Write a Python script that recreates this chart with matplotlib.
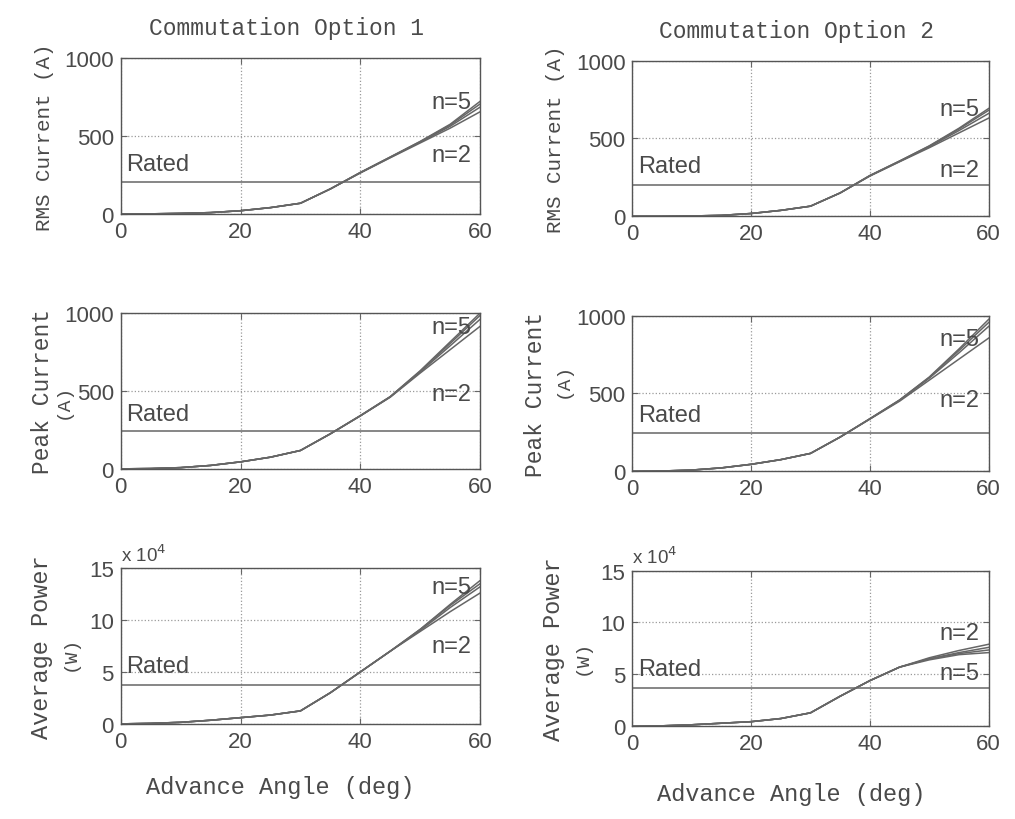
import matplotlib
matplotlib.use("Agg")
import matplotlib.pyplot as plt

# advance angle (deg)
angle = [0, 5, 10, 15, 20, 25, 30, 35, 40, 45, 50, 55, 60]
n_values = [2, 3, 4, 5]

# commutation option 1
rms1 = {
    2: [0, 0, 3, 8, 20, 40, 68, 160, 262, 360, 455, 550, 655],
    3: [0, 0, 3, 8, 20, 40, 68, 160, 264, 362, 460, 562, 685],
    4: [0, 0, 3, 8, 20, 40, 68, 160, 265, 364, 463, 570, 705],
    5: [0, 0, 3, 8, 20, 40, 68, 160, 266, 365, 465, 575, 722],
}
peak1 = {
    2: [0, 2, 8, 22, 45, 75, 118, 225, 340, 460, 615, 765, 915],
    3: [0, 2, 8, 22, 45, 75, 118, 225, 340, 462, 622, 790, 960],
    4: [0, 2, 8, 22, 45, 75, 118, 225, 341, 463, 626, 805, 985],
    5: [0, 2, 8, 22, 45, 75, 118, 225, 342, 464, 630, 815, 1000],
}
power1 = {
    2: [0, 0.05, 0.15, 0.35, 0.6, 0.85, 1.25, 3.0, 5.0, 7.0, 8.9, 10.8, 12.6],
    3: [0, 0.05, 0.15, 0.35, 0.6, 0.85, 1.25, 3.0, 5.0, 7.0, 9.0, 11.2, 13.2],
    4: [0, 0.05, 0.15, 0.35, 0.6, 0.85, 1.25, 3.0, 5.0, 7.0, 9.1, 11.4, 13.5],
    5: [0, 0.05, 0.15, 0.35, 0.6, 0.85, 1.25, 3.0, 5.0, 7.0, 9.1, 11.5, 13.8],
}

# commutation option 2
rms2 = {
    2: [0, 0, 2, 6, 18, 38, 65, 150, 258, 350, 440, 535, 630],
    3: [0, 0, 2, 6, 18, 38, 65, 150, 260, 352, 446, 550, 660],
    4: [0, 0, 2, 6, 18, 38, 65, 150, 261, 354, 450, 560, 680],
    5: [0, 0, 2, 6, 18, 38, 65, 150, 262, 355, 452, 565, 692],
}
peak2 = {
    2: [0, 2, 8, 22, 45, 75, 115, 220, 335, 450, 585, 720, 855],
    3: [0, 2, 8, 22, 45, 75, 115, 220, 336, 455, 598, 760, 930],
    4: [0, 2, 8, 22, 45, 75, 115, 220, 337, 457, 602, 775, 955],
    5: [0, 2, 8, 22, 45, 75, 115, 220, 338, 458, 605, 785, 975],
}
power2 = {
    2: [0, 0.05, 0.15, 0.3, 0.45, 0.75, 1.3, 2.9, 4.4, 5.7, 6.6, 7.3, 7.9],
    3: [0, 0.05, 0.15, 0.3, 0.45, 0.75, 1.3, 2.9, 4.4, 5.7, 6.5, 7.1, 7.6],
    4: [0, 0.05, 0.15, 0.3, 0.45, 0.75, 1.3, 2.9, 4.4, 5.7, 6.5, 7.0, 7.35],
    5: [0, 0.05, 0.15, 0.3, 0.45, 0.75, 1.3, 2.9, 4.4, 5.7, 6.4, 6.9, 7.1],
}

rated1 = [205, 240, 3.7]
rated2 = [200, 245, 3.7]

titles = ["Commutation Option 1", "Commutation Option 2"]
ylabels = ["RMS Current (A)", "Peak Current", "Average Power"]
ylab_size = [15, 16.5, 17]
yunits = [None, "(A)", "(W)"]
ylims = [(0, 1000), (0, 1000), (0, 15)]
yticks = [[0, 500, 1000], [0, 500, 1000], [0, 5, 10, 15]]
xticks = [0, 20, 40, 60]
# labels near the curve ends: (text, axes-y) top and bottom
top_lab = [[("n=5", 0.72), ("n=5", 0.91), ("n=5", 0.88)],
           [("n=5", 0.69), ("n=5", 0.85), ("n=2", 0.60)]]
bot_lab = [[("n=2", 0.38), ("n=2", 0.48), ("n=2", 0.50)],
           [("n=2", 0.30), ("n=2", 0.46), ("n=5", 0.34)]]
rated_y = [[0.32, 0.35, 0.37], [0.32, 0.36, 0.37]]
# ylabel and unit positions in axes coords
ylab_x = [[-0.187, -0.187, -0.19], [-0.188, -0.239, -0.19]]
unit_pos = [[None, (-0.16, 0.44), (-0.14, 0.46)],
            [None, (-0.194, 0.59), (-0.14, 0.45)]]
xlab_y = [-0.33, -0.36]

line_c = "#666666"
text_c = "#4a4a4a"
mono = "Liberation Mono"
sans = "Liberation Sans"

fig = plt.figure(figsize=(10.15, 8.2), dpi=100)

col_x = [0.119, 0.623]
col_w = [0.354, 0.351]
row_y = [[0.738, 0.427, 0.116], [0.735, 0.424, 0.113]]
row_h = 0.19

data = [[rms1, peak1, power1], [rms2, peak2, power2]]
rated = [rated1, rated2]

for c in range(2):
    for r in range(3):
        ax = fig.add_axes([col_x[c], row_y[c][r], col_w[c], row_h])
        series = data[c][r]
        for n in n_values:
            ax.plot(angle, series[n], color=line_c, lw=1.1)
        ax.axhline(rated[c][r], color=line_c, lw=1.1)
        ax.set_xlim(0, 60)
        ax.set_ylim(*ylims[r])
        ax.set_xticks(xticks)
        ax.set_yticks(yticks[r])
        ax.grid(True, linestyle=":", color="#9a9a9a", lw=0.9)
        ax.tick_params(direction="in", length=4, top=True, right=True,
                       colors="#666666", labelcolor=text_c, labelsize=16,
                       pad=5)
        for lab in ax.get_xticklabels() + ax.get_yticklabels():
            lab.set_fontfamily(sans)
        for s in ax.spines.values():
            s.set_color("#555555")
            s.set_linewidth(1.0)
        ax.text(0.015, rated_y[c][r], "Rated", transform=ax.transAxes,
                fontsize=17, color=text_c, family=sans, va="center")
        t, yy = top_lab[c][r]
        ax.text(0.975, yy, t, transform=ax.transAxes, fontsize=17,
                color=text_c, family=sans, ha="right", va="center")
        t, yy = bot_lab[c][r]
        ax.text(0.975, yy, t, transform=ax.transAxes, fontsize=17,
                color=text_c, family=sans, ha="right", va="center")
        ax.set_ylabel(ylabels[r], fontsize=ylab_size[r], color=text_c,
                      family=mono)
        ax.yaxis.set_label_coords(ylab_x[c][r], 0.5)
        if yunits[r]:
            ux, uy = unit_pos[c][r]
            ax.text(ux, uy, yunits[r], transform=ax.transAxes,
                    rotation=90, fontsize=14, color=text_c, family=mono,
                    ha="center", va="center")
        if r == 2:
            ax.text(0.0, 1.02, r"x 10$^4$", transform=ax.transAxes,
                    fontsize=13.5, color=text_c, family=sans, va="bottom")
            ax.set_xlabel("Advance Angle (deg)", fontsize=17, color=text_c,
                          family=mono)
            ax.xaxis.set_label_coords(0.445, xlab_y[c])
        if r == 0:
            ax.text(0.46, 1.12, titles[c], transform=ax.transAxes,
                    fontsize=16.5, color=text_c, family=mono,
                    ha="center", va="bottom")

fig.savefig("out.png", dpi=100)
